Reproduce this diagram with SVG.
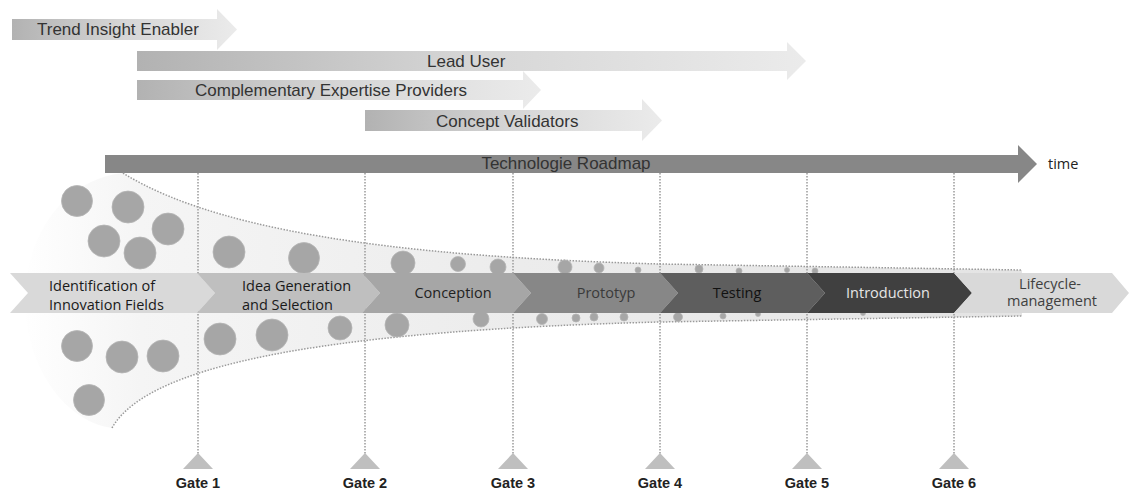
<svg xmlns="http://www.w3.org/2000/svg" width="1131" height="491" viewBox="0 0 1131 491">
<defs>
<linearGradient id="barGrad" x1="0" y1="0" x2="1" y2="0">
<stop offset="0" stop-color="#b2b2b2"/>
<stop offset="0.5" stop-color="#d6d6d6"/>
<stop offset="1" stop-color="#ebebeb"/>
</linearGradient>
<linearGradient id="funnelGrad" gradientUnits="userSpaceOnUse" x1="20" y1="0" x2="1022" y2="0">
<stop offset="0" stop-color="#ffffff"/>
<stop offset="0.12" stop-color="#f5f5f5"/>
<stop offset="0.5" stop-color="#ececec"/>
<stop offset="1" stop-color="#e4e4e4"/>
</linearGradient>
</defs>
<style>
.bar{fill:url(#barGrad);}
.lbl{font-family:"Liberation Sans",Arial,sans-serif;font-size:17px;fill:#333333;}
.ph{font-family:"Open Sans","Noto Sans",sans-serif;font-size:14.5px;}
.gate{font-family:"Liberation Sans",Arial,sans-serif;font-size:14.5px;font-weight:bold;fill:#222222;text-anchor:middle;}
.dot{fill:none;stroke:#9a9a9a;stroke-width:1.5;stroke-dasharray:1.5 1.5;}
.c{fill:#a6a6a6;stroke:#b5b5b5;stroke-width:0.8;}
.tri{fill:#bfbfbf;}
</style>
<rect width="1131" height="491" fill="#ffffff"/>

<g id="trend-insight-enabler">
<polygon class="bar" points="12,19 217,19 217,9 237,29.5 217,50 217,40 12,40"/>
<text class="lbl" x="37" y="35">Trend Insight Enabler</text>
</g>
<g id="lead-user">
<polygon class="bar" points="137,51 787,51 787,42 806,61 787,80 787,71 137,71"/>
<text class="lbl" x="427" y="67">Lead User</text>
</g>
<g id="complementary-expertise-providers">
<polygon class="bar" points="137,80 523,80 523,71 541,90 523,109 523,100 137,100"/>
<text class="lbl" x="195" y="96">Complementary Expertise Providers</text>
</g>
<g id="concept-validators">
<polygon class="bar" points="365,110 642,110 642,99 662,120.5 642,141 642,131 365,131"/>
<text class="lbl" x="436" y="126.5">Concept Validators</text>
</g>
<g id="technologie-roadmap">
<polygon points="105,155 1018,155 1018,145 1037,164 1018,183 1018,173 105,173" fill="#878787"/>
<text class="lbl" x="566" y="169" text-anchor="middle">Technologie Roadmap</text>
<text class="ph" x="1048" y="169" fill="#222222">time</text>
</g>

<g id="funnel">
<path d="M123,173 C230,240 450,258 660,264 L1022,270 L1022,316 L660,322 C350,330 150,360 112,428 C60,420 25,360 25,300 C25,240 60,180 123,173 Z" fill="url(#funnelGrad)"/>
<path class="dot" d="M123,173 C230,240 450,258 660,264 L1022,270"/>
<path class="dot" d="M112,428 C150,360 350,330 660,322 L1022,316"/>
</g>

<g id="connectors">
<line class="dot" x1="198" y1="173" x2="198" y2="454"/>
<line class="dot" x1="365" y1="173" x2="365" y2="454"/>
<line class="dot" x1="513" y1="173" x2="513" y2="454"/>
<line class="dot" x1="660" y1="173" x2="660" y2="454"/>
<line class="dot" x1="807" y1="173" x2="807" y2="454"/>
<line class="dot" x1="954" y1="173" x2="954" y2="454"/>
</g>

<g id="ideas">
<circle class="c" cx="77" cy="201" r="15.5"/>
<circle class="c" cx="128" cy="207" r="16"/>
<circle class="c" cx="104" cy="241" r="16"/>
<circle class="c" cx="168" cy="229" r="16"/>
<circle class="c" cx="140" cy="253" r="16"/>
<circle class="c" cx="229" cy="252" r="16"/>
<circle class="c" cx="304" cy="258" r="15.5"/>
<circle class="c" cx="403" cy="263" r="12"/>
<circle class="c" cx="458" cy="264" r="7.5"/>
<circle class="c" cx="498" cy="267" r="8"/>
<circle class="c" cx="565" cy="267" r="7"/>
<circle class="c" cx="599" cy="268" r="5"/>
<circle class="c" cx="638" cy="270" r="3"/>
<circle class="c" cx="699" cy="269" r="4"/>
<circle class="c" cx="739" cy="271" r="3"/>
<circle class="c" cx="787" cy="270" r="2.5"/>
<circle class="c" cx="815" cy="271" r="3"/>
<circle class="c" cx="77" cy="346" r="15.5"/>
<circle class="c" cx="122" cy="357" r="16"/>
<circle class="c" cx="163" cy="356" r="16"/>
<circle class="c" cx="89" cy="400" r="15.5"/>
<circle class="c" cx="220" cy="339" r="16"/>
<circle class="c" cx="272" cy="335" r="16"/>
<circle class="c" cx="340" cy="328" r="12"/>
<circle class="c" cx="397" cy="325" r="12"/>
<circle class="c" cx="481" cy="319" r="8"/>
<circle class="c" cx="542" cy="319" r="5.5"/>
<circle class="c" cx="576" cy="318" r="4"/>
<circle class="c" cx="594" cy="317" r="4"/>
<circle class="c" cx="624" cy="317" r="4"/>
<circle class="c" cx="678" cy="317" r="4.5"/>
<circle class="c" cx="723" cy="316" r="3"/>
<circle class="c" cx="758" cy="314" r="2.5"/>
<circle class="c" cx="863" cy="313" r="2.5"/>
</g>

<g id="phase-identification">
<polygon points="10,273 197,273 215,293 197,313 10,313 28,293" fill="#d9d9d9"/>
<text class="ph" x="49" y="291" fill="#1a1a1a">Identification of</text>
<text class="ph" x="49" y="310" fill="#1a1a1a">Innovation Fields</text>
</g>
<g id="phase-idea-generation">
<polygon points="197,273 362,273 380,293 362,313 197,313 215,293" fill="#bfbfbf"/>
<text class="ph" x="242" y="291" fill="#1a1a1a">Idea Generation</text>
<text class="ph" x="242" y="310" fill="#1a1a1a">and Selection</text>
</g>
<g id="phase-conception">
<polygon points="362,273 513,273 531,293 513,313 362,313 380,293" fill="#a6a6a6"/>
<text class="ph" x="453" y="298" fill="#222222" text-anchor="middle">Conception</text>
</g>
<g id="phase-prototyp">
<polygon points="513,273 660,273 678,293 660,313 513,313 531,293" fill="#878787"/>
<text class="ph" x="606" y="298" fill="#3a3a3a" text-anchor="middle">Prototyp</text>
</g>
<g id="phase-testing">
<polygon points="660,273 807,273 825,293 807,313 660,313 678,293" fill="#5e5e5e"/>
<text class="ph" x="737" y="298" fill="#111111" text-anchor="middle">Testing</text>
</g>
<g id="phase-introduction">
<polygon points="807,273 954,273 972,293 954,313 807,313 825,293" fill="#404040"/>
<text class="ph" x="888" y="298" fill="#e6e6e6" text-anchor="middle">Introduction</text>
</g>
<g id="phase-lifecycle">
<polygon points="954,273 1112,273 1129,293 1112,313 954,313 972,293" fill="#d9d9d9"/>
<text class="ph" x="1050" y="289" fill="#404040" text-anchor="middle" font-size="13.5">Lifecycle-</text>
<text class="ph" x="1052" y="306" fill="#404040" text-anchor="middle" font-size="13.5">management</text>
</g>

<g id="gate-1"><polygon class="tri" points="183,469 198,453 213,469"/><text class="gate" x="198" y="488">Gate 1</text></g>
<g id="gate-2"><polygon class="tri" points="350,469 365,453 380,469"/><text class="gate" x="365" y="488">Gate 2</text></g>
<g id="gate-3"><polygon class="tri" points="498,469 513,453 528,469"/><text class="gate" x="513" y="488">Gate 3</text></g>
<g id="gate-4"><polygon class="tri" points="645,469 660,453 675,469"/><text class="gate" x="660" y="488">Gate 4</text></g>
<g id="gate-5"><polygon class="tri" points="792,469 807,453 822,469"/><text class="gate" x="807" y="488">Gate 5</text></g>
<g id="gate-6"><polygon class="tri" points="939,469 954,453 969,469"/><text class="gate" x="954" y="488">Gate 6</text></g>
</svg>
